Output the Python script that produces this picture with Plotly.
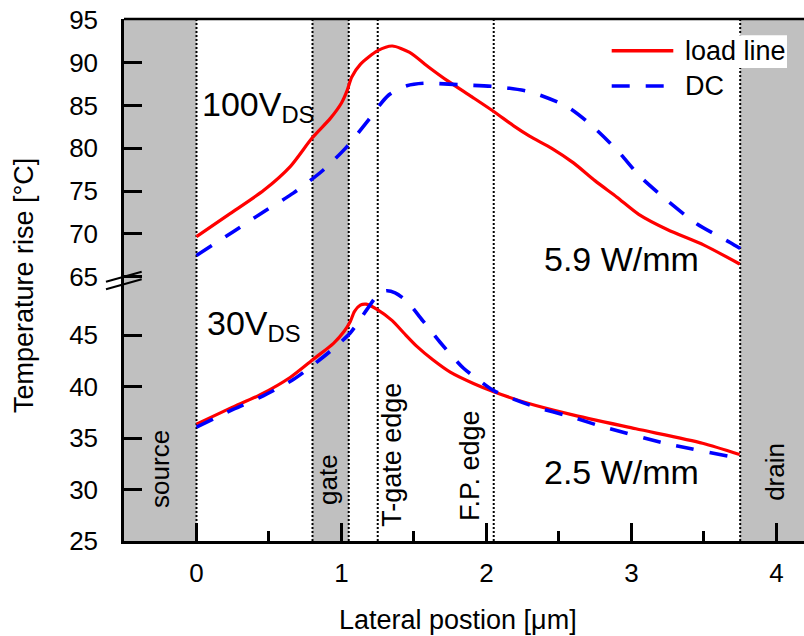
import plotly.graph_objects as go

# ---------------- data ----------------
# 100 V_DS (upper panel)
x_hi_load = [0, 0.234, 0.464, 0.648, 0.797, 0.923, 1.0, 1.04, 1.07, 1.13, 1.25, 1.35, 1.47,
             1.6, 1.73, 1.9, 2.05, 2.19, 2.3, 2.45, 2.6, 2.75, 2.9, 3.05, 3.25, 3.5, 3.746]
T_hi_load = [69.7, 72.4, 75.1, 77.9, 81.2, 83.5, 85.3, 86.8, 88.3, 89.8, 91.4, 91.95, 91.2,
             89.5, 87.9, 86.0, 84.3, 82.6, 81.4, 80.0, 78.3, 76.2, 74.3, 72.3, 70.5, 68.7, 66.5]
x_hi_dc = [0, 0.256, 0.464, 0.67, 0.877, 1.038, 1.176, 1.324, 1.45, 1.566, 1.84, 2.07,
           2.30, 2.553, 2.71, 2.9, 3.06, 3.24, 3.45, 3.68, 3.75]
T_hi_dc = [67.5, 70.3, 72.6, 74.8, 77.5, 80.2, 83.1, 86.2, 87.3, 87.6, 87.4, 87.2,
           86.6, 84.9, 82.9, 79.8, 76.7, 74.0, 71.2, 69.0, 68.3]
# 30 V_DS (lower panel)
x_lo_load = [0, 0.234, 0.44, 0.648, 0.81, 0.945, 1.02, 1.06, 1.09, 1.13, 1.17, 1.245, 1.35,
             1.43, 1.52, 1.63, 1.75, 1.91, 2.05, 2.28, 2.58, 3.03, 3.49, 3.746]
T_lo_load = [36.35, 37.9, 39.2, 40.9, 42.7, 44.2, 45.4, 46.3, 47.3, 47.9, 48.0, 47.5, 46.4,
             45.2, 43.9, 42.6, 41.4, 40.3, 39.5, 38.4, 37.3, 35.9, 34.5, 33.4]
x_lo_dc = [0, 0.256, 0.46, 0.67, 0.85, 0.945, 1.06, 1.176, 1.256, 1.31, 1.37, 1.45, 1.566,
           1.68, 1.84, 1.95, 2.05, 2.32, 2.6, 2.8, 3.26, 3.72, 3.75]
T_lo_dc = [36.07, 37.8, 39.1, 40.7, 42.6, 43.7, 45.2, 47.5, 49.0, 49.3, 49.1, 48.3, 46.3,
           44.3, 41.8, 40.6, 39.6, 38.1, 37.0, 36.1, 34.4, 33.1, 33.0]

# device regions (shaded) and feature edges (dotted)
region_names = ["source", "gate", "drain"]
region_x0 = [-0.5, 0.8, 3.75]
region_x1 = [0.0, 1.05, 4.19]
edge_names = ["T-gate edge", "F.P. edge"]
edge_x = [1.25, 2.05]
boundary_x = [0.0, 0.8, 1.05, 1.25, 2.05, 3.75]

x_ticks = [0, 1, 2, 3, 4]
y_lo_ticks = [25, 30, 35, 40, 45]
y_hi_ticks = [65, 70, 75, 80, 85, 90, 95]

series_names = ["load line", "DC"]
power_labels = ["5.9 W/mm", "2.5 W/mm"]

# ---------------- figure ----------------
FONT = "Liberation Sans, Arial, sans-serif"
RED = "#ff0000"
BLUE = "#0000ff"
GRAY = "#c0c0c0"
SMOOTH = 0.7

fig = go.Figure()
fig.add_trace(go.Scatter(x=x_lo_load, y=T_lo_load, xaxis="x", yaxis="y", mode="lines",
                         name=series_names[0], showlegend=False,
                         line=dict(color=RED, width=3.2, shape="spline", smoothing=SMOOTH)))
fig.add_trace(go.Scatter(x=x_lo_dc, y=T_lo_dc, xaxis="x", yaxis="y", mode="lines",
                         name=series_names[1], showlegend=False,
                         line=dict(color=BLUE, width=3.6, dash="18px,16px", shape="spline", smoothing=SMOOTH)))
fig.add_trace(go.Scatter(x=x_hi_load, y=T_hi_load, xaxis="x", yaxis="y2", mode="lines",
                         name=series_names[0], showlegend=False,
                         line=dict(color=RED, width=3.2, shape="spline", smoothing=SMOOTH)))
fig.add_trace(go.Scatter(x=x_hi_dc, y=T_hi_dc, xaxis="x", yaxis="y2", mode="lines",
                         name=series_names[1], showlegend=False,
                         line=dict(color=BLUE, width=3.6, dash="18px,16px", shape="spline", smoothing=SMOOTH)))

shapes = []
for x0, x1 in zip(region_x0, region_x1):
    shapes.append(dict(type="rect", xref="x", yref="paper", x0=x0, x1=x1, y0=0, y1=1,
                       fillcolor=GRAY, line=dict(width=0), layer="below"))
for xb in boundary_x:
    shapes.append(dict(type="line", xref="x", yref="paper", x0=xb, x1=xb, y0=0, y1=1,
                       line=dict(color="black", width=2, dash="2px,2px"), layer="below"))
# white box behind legend text
shapes.append(dict(type="rect", xref="paper", yref="paper", x0=0.812, x1=0.975, y0=0.906, y1=0.969,
                   fillcolor="white", line=dict(width=0), layer="below"))
# top frame
shapes.append(dict(type="line", xref="paper", yref="paper", x0=0, x1=1, y0=1, y1=1,
                   line=dict(color="black", width=2.5), layer="above"))
# axis break marks
shapes.append(dict(type="line", xref="paper", yref="paper", x0=-0.0265, x1=0.026, y0=0.4967, y1=0.5159,
                   line=dict(color="black", width=2), layer="above"))
shapes.append(dict(type="line", xref="paper", yref="paper", x0=-0.0265, x1=0.026, y0=0.4822, y1=0.5013,
                   line=dict(color="black", width=2), layer="above"))
# legend samples
shapes.append(dict(type="line", xref="paper", yref="paper", x0=0.7172, x1=0.8078, y0=0.9393, y1=0.9393,
                   line=dict(color=RED, width=3.5), layer="above"))
shapes.append(dict(type="line", xref="paper", yref="paper", x0=0.7172, x1=0.7956, y0=0.8716, y1=0.8716,
                   line=dict(color=BLUE, width=3.6, dash="18px,16px"), layer="above"))

ann = []
def txt(text, x, y, size, angle=0, xanchor="center"):
    ann.append(dict(text=text, x=x, y=y, xref="paper", yref="paper", showarrow=False,
                    textangle=angle, xanchor=xanchor, yanchor="middle",
                    font=dict(family=FONT, size=size, color="black")))

txt(series_names[0], 0.8216, 0.938, 27, xanchor="left")
txt(series_names[1], 0.8221, 0.871, 27, xanchor="left")
txt("100V<sub>DS</sub>", 0.1118, 0.833, 34, xanchor="left")
txt("30V<sub>DS</sub>", 0.119, 0.4135, 34, xanchor="left")
txt(power_labels[0], 0.7309, 0.540, 34)
txt(power_labels[1], 0.7309, 0.132, 34)
txt(region_names[0], 0.0529, 0.138, 26, angle=-90)
txt(region_names[1], 0.300, 0.117, 26, angle=-90)
txt(region_names[2], 0.957, 0.132, 26, angle=-90)
txt(edge_names[0], 0.394, 0.165, 27, angle=-90)
txt(edge_names[1], 0.509, 0.1437, 27, angle=-90)
txt("Temperature rise [°C]", -0.147, 0.4885, 27, angle=-90)
txt("Lateral postion [μm]", 0.491, -0.151, 27)

axis_common = dict(showgrid=False, zeroline=False, showline=True, linecolor="black", linewidth=2.5,
                   ticks="inside", tickcolor="black", tickwidth=2.5, ticklen=18,
                   ticklabeloverflow="allow", automargin=False,
                   tickfont=dict(family=FONT, size=26, color="black"))

fig.update_layout(
    width=804, height=636,
    margin=dict(l=124, r=0, t=19, b=95, autoexpand=False),
    paper_bgcolor="white", plot_bgcolor="white",
    showlegend=False,
    xaxis=dict(range=[-0.5, 4.19], tickvals=x_ticks, anchor="y", ticklabelstandoff=7,
               minor=dict(ticks="inside", ticklen=10, tickwidth=2.5, tickcolor="black", dtick=0.5, tick0=0),
               **axis_common),
    yaxis=dict(range=[25, 50.45], domain=[0, 0.502], tickvals=y_lo_ticks, anchor="x",
               ticklabelstandoff=18, **axis_common),
    yaxis2=dict(range=[64.75, 95.1], domain=[0.502, 1], tickvals=y_hi_ticks, anchor="x",
                ticklabelstandoff=18, **axis_common),
    shapes=shapes, annotations=ann,
)

# remove the default page margin so the 804x636 figure fills the window exactly
fig.write_html("out.html", config={"displayModeBar": False},
               post_script="document.body.style.margin='0';")
